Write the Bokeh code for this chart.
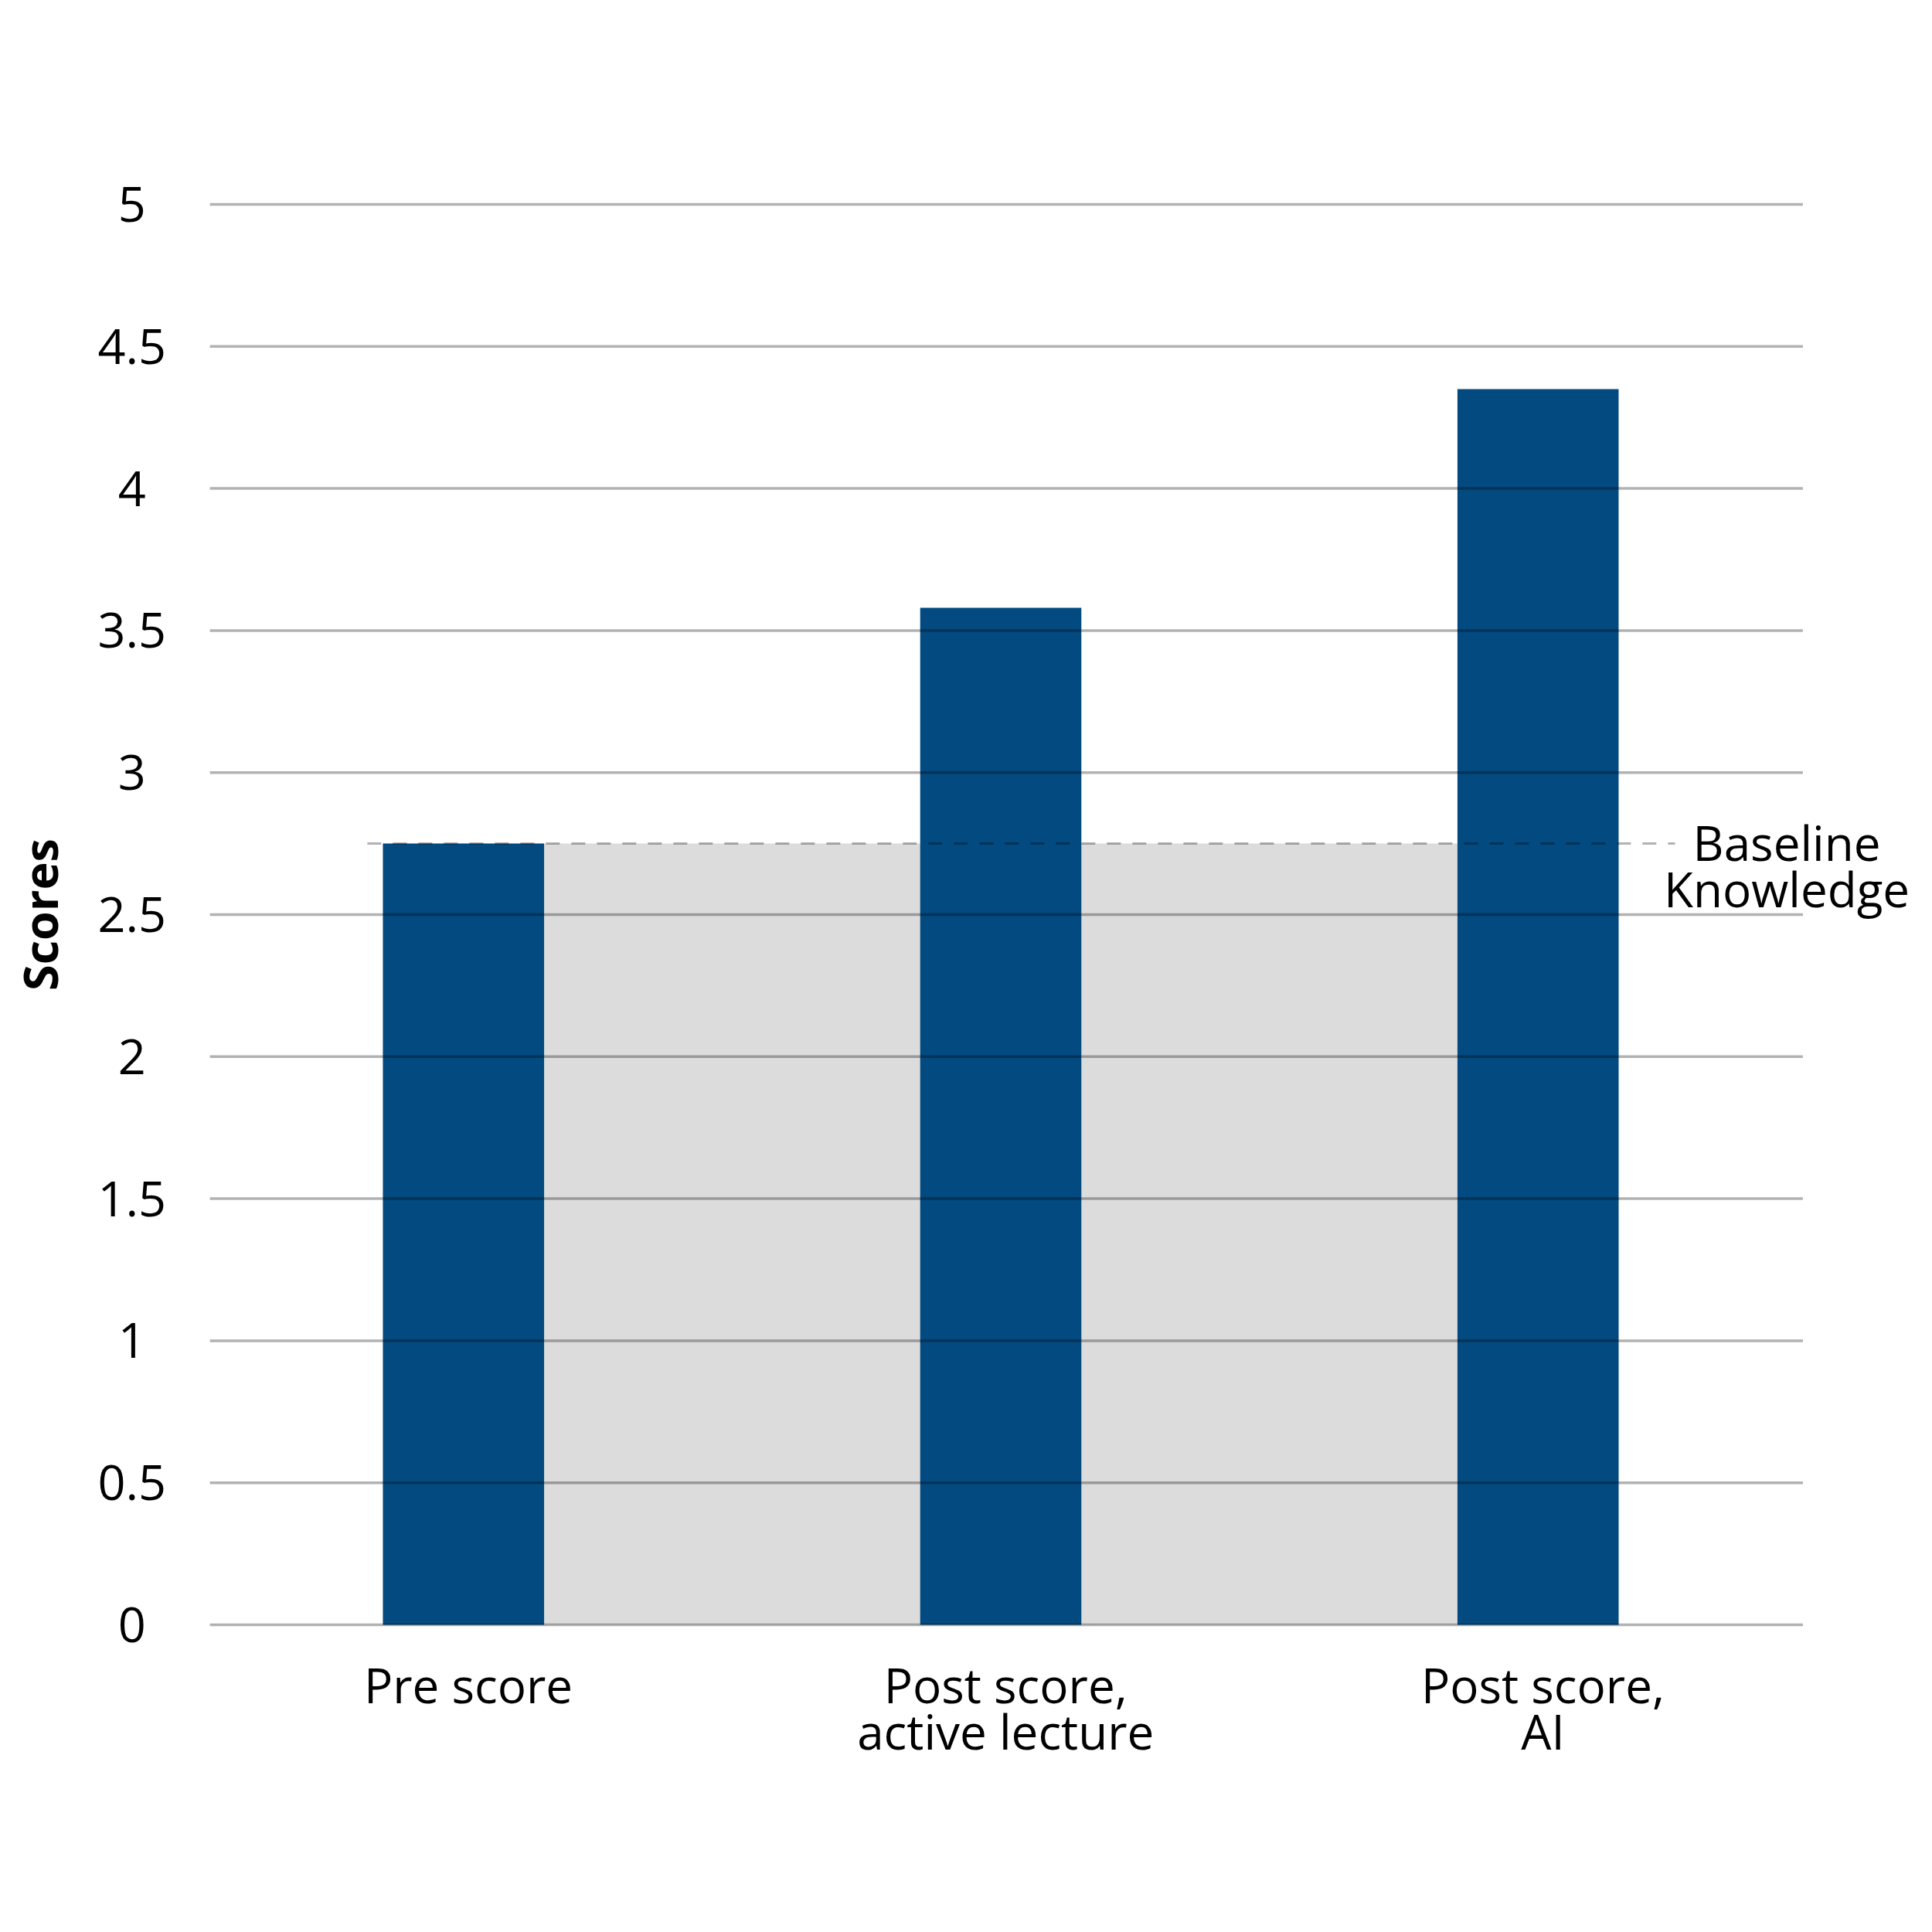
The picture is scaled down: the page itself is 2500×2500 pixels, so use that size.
from bokeh.plotting import figure
from bokeh.models import ColumnDataSource, Range1d
from bokeh.embed import file_html
from bokeh.resources import INLINE

# ---- data ----
categories = ["Pre score", "Post score,\nactive lecture", "Post score,\nAI"]
scores = [2.75, 3.58, 4.35]
baseline_value = 2.75
baseline_label = "Baseline\nKnowledge"
y_ticks = [0, 0.5, 1, 1.5, 2, 2.5, 3, 3.5, 4, 4.5, 5]
y_tick_labels = ["0", "0.5", "1", "1.5", "2", "2.5", "3", "3.5", "4", "4.5", "5"]
y_title = "Scores"

FONT = "Open Sans"
BAR = "#024a80"
xs = list(range(len(categories)))

# layout (data-space placement of the plot frame and guides)
W = H = 2484
X_START, X_END = -0.862, 2.711
Y_START, Y_END = -1.039, 5.718
GRID_X0, GRID_X1 = -0.472, 2.493
LABEL_DX = 0.009
unit_y = H / (Y_END - Y_START)          # pixels per score unit
line_gap = 60 / unit_y                  # text line spacing in data units

p = figure(width=W, height=H, output_backend="svg", toolbar_location=None,
           x_range=Range1d(X_START, X_END), y_range=Range1d(Y_START, Y_END),
           min_border=0)
p.outline_line_color = None
p.axis.visible = False
p.grid.visible = False
p.background_fill_color = "white"
p.border_fill_color = "white"

# baseline shaded area
p.quad(left=[xs[0] - 0.15], right=[xs[-1] + 0.15], bottom=[0], top=[baseline_value],
       fill_color="#dcdcdc", line_color=None)

# bars
src = ColumnDataSource(dict(x=xs, top=scores))
p.vbar(x="x", top="top", width=0.3, bottom=0, source=src, fill_color=BAR, line_color=None)

# dashed baseline
p.line(x=[xs[0] - 0.179, xs[-1] + 0.255], y=[baseline_value, baseline_value],
       line_color="black", line_alpha=0.3, line_width=3, line_dash="18 15")

# horizontal grid lines, drawn on top of bars
p.segment(x0=[GRID_X0] * len(y_ticks), x1=[GRID_X1] * len(y_ticks), y0=y_ticks, y1=y_ticks,
          line_color="black", line_alpha=0.3, line_width=3.5)

# y tick labels
p.text(x=[-0.617] * len(y_ticks), y=y_ticks, text=y_tick_labels,
       text_font=dict(value=FONT), text_font_size="63px", text_color="black",
       text_align="center", text_baseline="middle")

# x category labels (one text row per line)
first_lines = [c.split("\n")[0] for c in categories]
second_lines = [c.split("\n")[1] if "\n" in c else "" for c in categories]
label_x = [x + LABEL_DX for x in xs]
y_line1 = -77 / unit_y
p.text(x=label_x, y=[y_line1] * len(xs), text=first_lines,
       text_font=dict(value=FONT), text_font_size="62px", text_color="black",
       text_align="center", text_baseline="alphabetic")
p.text(x=label_x, y=[y_line1 - line_gap] * len(xs), text=second_lines,
       text_font=dict(value=FONT), text_font_size="62px", text_color="black",
       text_align="center", text_baseline="alphabetic")

# y title
p.text(x=[-0.789], y=[2.5], text=[y_title], angle=1.5707963,
       text_font=dict(value=FONT), text_font_size="61px", text_font_style="bold",
       text_color="black", text_align="center", text_baseline="middle")

# baseline annotation
bl = baseline_label.split("\n")
y_bl1 = baseline_value + 2 / unit_y
p.text(x=[2.463, 2.463], y=[y_bl1, y_bl1 - line_gap], text=bl,
       text_font=dict(value=FONT), text_font_size="62px", text_color="black",
       text_align="center", text_baseline="alphabetic")

open("out.html", "w").write(file_html(p, INLINE))
